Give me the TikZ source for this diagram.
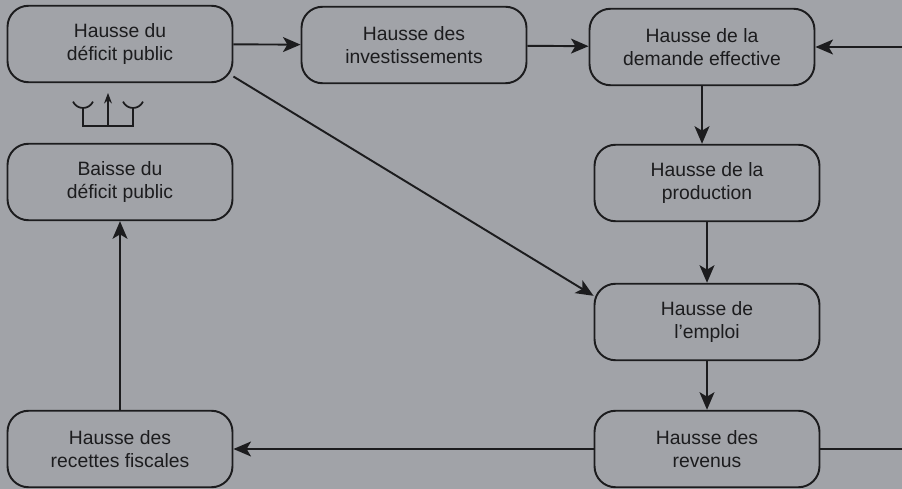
\documentclass[tikz,border=0pt]{standalone}
\usepackage{fontspec}
\setmainfont{Liberation Sans}
\usetikzlibrary{arrows.meta}
\definecolor{fond}{RGB}{161,163,168}
\definecolor{trait}{RGB}{28,28,30}
\def\boxwidth{4.5cm}
\def\boxheight{1.53cm}

\begin{document}
\begin{tikzpicture}[x=0.02cm,y=-0.02cm]
		\tikzstyle{etape}=[draw=trait,line width=1.1pt,rounded corners=0.42cm,minimum width=\boxwidth,minimum height=\boxheight,align=center,text=trait,font=\fontsize{11}{13}\selectfont]
		\tikzstyle{fleche}=[draw=trait,line width=1.1pt,-{Stealth[length=10pt,width=8.5pt,inset=2.5pt]}]
		\tikzstyle{ligne}=[draw=trait,line width=1.1pt]
		\tikzstyle{fine}=[draw=trait,line width=1pt]

			% Background and margins
		\fill[fond] (0,0) rectangle (902,489);
		\useasboundingbox (0,0) rectangle (902,489);

			% Draw the left column and top row
		\node[etape] (deficit) at (120,44) {Hausse du\\déficit public};
		\node[etape] (baisse) at (120,182) {Baisse du\\déficit public};
		\node[etape] (recettes) at (120,449) {Hausse des\\recettes fiscales};
		\node[etape] (invest) at (414,45) {Hausse des\\investissements};
		\node[etape] (demande) at (702,47) {Hausse de la\\demande effective};

			% Draw the right column
		\foreach \name / \y / \txt in {prod/183/{Hausse de la\\production},emploi/322/{Hausse de\\l'emploi},revenus/449/{Hausse des\\revenus}}
		\node[etape] (\name) at (707,\y) {\txt};

			% Free ends at the right edge
		\coordinate (bord) at (902,0);

			% Connect the boxes
		\foreach \source / \dest in {deficit/invest,invest/demande,prod/emploi,emploi/revenus,revenus/recettes,recettes/baisse}
		\draw[fleche] (\source) -- (\dest);

		\draw[fleche] (demande.south) -- (demande.south |- prod.north);
		\draw[fleche] (deficit.-16) -- (emploi.167);
		\draw[ligne] (revenus.east) -- (revenus.east -| bord);
		\draw[fleche] (bord |- demande) -- (demande.east);

			% Small sign between the two deficit boxes
		\coordinate (fourche) at (108,126);
		\draw[fine] (fourche) ++(-25,-18) -- ++(0,18) -- ++(50,0) -- ++(0,-18);
		\foreach \dx in {-25,25} {
		\draw[fine] (fourche) ++(\dx,-18) arc[start angle=270,end angle=335,radius=0.22cm];
		\draw[fine] (fourche) ++(\dx,-18) arc[start angle=270,end angle=205,radius=0.22cm];
		}
		\draw[draw=trait,line width=0.6pt,-{Stealth[length=6pt,width=4.5pt]}] (fourche) -- ++(0,-33);
\end{tikzpicture}
\end{document}
